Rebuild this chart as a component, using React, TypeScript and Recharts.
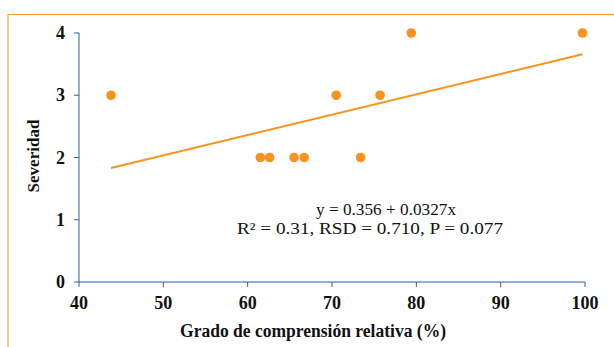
import { ScatterChart, Scatter, XAxis, YAxis, Customized } from 'recharts';

const compresion = [43.8, 61.5, 62.6, 65.5, 66.7, 70.5, 73.4, 75.7, 79.4, 99.7];
const severidad = [3, 2, 2, 2, 2, 3, 2, 3, 4, 4];
const trendX = [43.8, 99.7];
const trendY = [1.83, 3.66];
const xTicks = [40, 50, 60, 70, 80, 90, 100];
const yTicks = [0, 1, 2, 3, 4];
const ecuacion = 'y = 0.356 + 0.0327x';
const estadisticos = 'R² = 0.31, RSD = 0.710, P = 0.077';

const puntos = compresion.map((x, i) => ({ x, y: severidad[i] }));
const tendencia = trendX.map((x, i) => ({ x, y: trendY[i] }));

const orange = '#F7931E';
const blue = '#2a5ea8';
const font = 'Liberation Serif';

const Dot = (props: any) => <circle cx={props.cx} cy={props.cy} r={4.8} fill={orange} />;

const XTick = (props: any) => (
  <text x={props.x} y={props.y + 18} textAnchor="middle" fontFamily={font} fontSize={18} fontWeight="bold" fill="#111">
    {props.payload.value}
  </text>
);

const YTick = (props: any) => (
  <text x={props.x} y={props.y + 6} textAnchor="end" fontFamily={font} fontSize={18} fontWeight="bold" fill="#111">
    {props.payload.value}
  </text>
);

const Textos = () => (
  <g fontFamily={font} fill="#111">
    <text x={386} y={215} textAnchor="middle" fontSize={16} textLength={140} lengthAdjust="spacingAndGlyphs">
      {ecuacion}
    </text>
    <text x={370} y={234} textAnchor="middle" fontSize={16} textLength={266} lengthAdjust="spacingAndGlyphs">
      {estadisticos}
    </text>
    <text x={313} y={337} textAnchor="middle" fontSize={18} fontWeight="bold" textLength={266} lengthAdjust="spacingAndGlyphs">
      Grado de comprensión relativa (%)
    </text>
    <text x={39} y={156} textAnchor="middle" fontSize={17} fontWeight="bold" transform="rotate(-90 39 156)">
      Severidad
    </text>
  </g>
);

export default function App() {
  return (
    <div style={{ position: 'fixed', left: 0, top: 0, width: 614, height: 347, background: '#fff' }}>
      <div
        style={{
          position: 'absolute',
          left: 7,
          top: 14,
          right: 0,
          bottom: 0,
          borderTop: `1.5px solid ${orange}`,
          borderLeft: '2px solid #FCC88E',
        }}
      />
      <ScatterChart width={614} height={347} margin={{ top: 33, right: 29, bottom: 0, left: 0 }} style={{ position: 'absolute', left: 0, top: 0 }}>
        <XAxis
          type="number"
          dataKey="x"
          domain={[40, 100]}
          ticks={xTicks}
          height={65}
          stroke={blue}
          tickSize={5}
          tickMargin={4}
          tick={<XTick />}
        />
        <YAxis
          type="number"
          dataKey="y"
          domain={[0, 4]}
          ticks={yTicks}
          width={79}
          stroke={blue}
          tickSize={5}
          tickMargin={9}
          tick={<YTick />}
        />
        <Scatter data={tendencia} line={{ stroke: orange, strokeWidth: 2 }} shape={() => null} isAnimationActive={false} />
        <Scatter data={puntos} shape={Dot} isAnimationActive={false} />
        <Customized component={Textos} />
      </ScatterChart>
    </div>
  );
}
